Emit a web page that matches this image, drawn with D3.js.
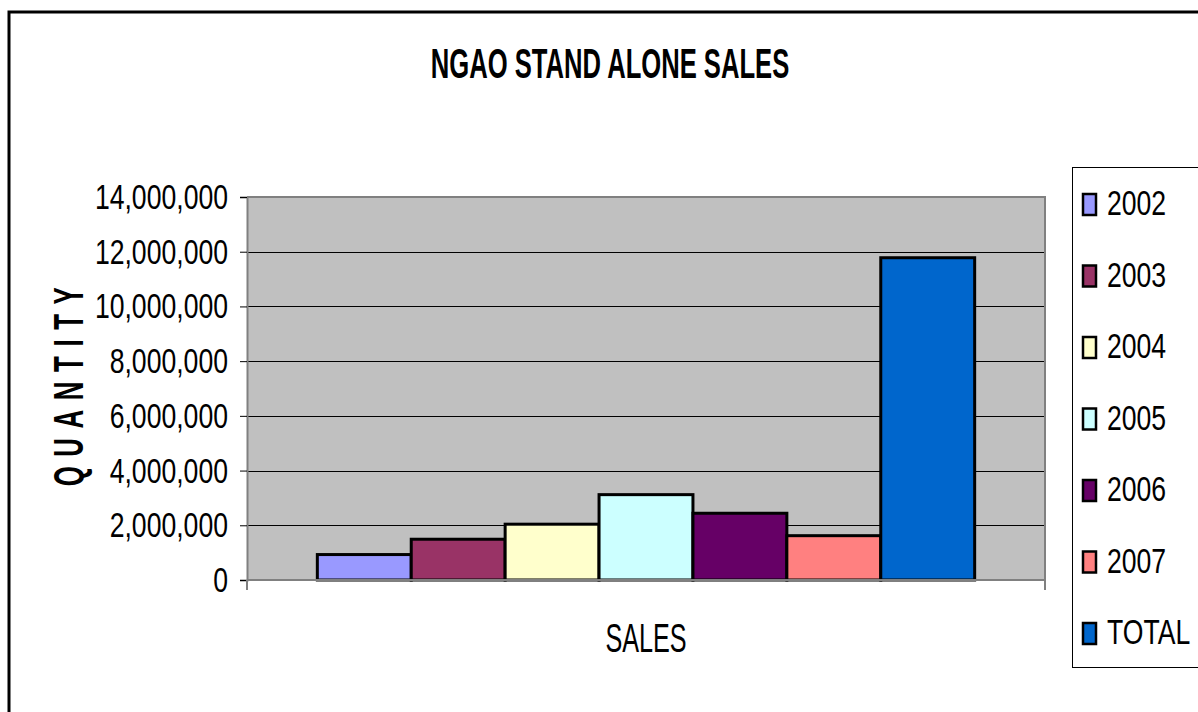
<!DOCTYPE html>
<html>
<head>
<meta charset="utf-8">
<script src="https://cdn.jsdelivr.net/npm/d3@7"></script>
<style>
  html, body { margin: 0; padding: 0; background: #fff; }
  svg { display: block; font-family: "Liberation Sans", Arial, sans-serif; }
</style>
</head>
<body>
<svg id="chart" width="1198" height="712"></svg>
<script>
// Stand-alone sales by year, plus the overall total
const seriesNames = ["2002", "2003", "2004", "2005", "2006", "2007", "TOTAL"];
const seriesValues = [930000, 1490000, 2040000, 3120000, 2440000, 1620000, 11780000];
const seriesColors = ["#9999FF", "#993366", "#FFFFCC", "#CCFFFF", "#660066", "#FF8080", "#0066CC"];
const categories = ["SALES"];
const yTicks = [0, 2000000, 4000000, 6000000, 8000000, 10000000, 12000000, 14000000];

const svg = d3.select("#chart");

// Outer chart frame
svg.append("path")
  .attr("d", "M9,712 V12 H1200")
  .attr("fill", "none")
  .attr("stroke", "#000")
  .attr("stroke-width", 3);

const plot = { left: 247, right: 1045, top: 197, bottom: 580 };

const y = d3.scaleLinear().domain([0, 14000000]).range([plot.bottom, plot.top]);
const x0 = d3.scaleBand().domain(categories)
  .range([plot.left, plot.right]).paddingInner(0).paddingOuter(0.107);
const x1 = d3.scaleBand().domain(seriesNames).range([0, x0.bandwidth()]);

// Plot area
svg.append("rect")
  .attr("x", plot.left).attr("y", plot.top)
  .attr("width", plot.right - plot.left).attr("height", plot.bottom - plot.top)
  .attr("fill", "#C0C0C0");

// Gridlines
svg.append("g")
  .selectAll("line")
  .data(yTicks.filter(t => t > 0 && t < 14000000))
  .join("line")
  .attr("x1", plot.left).attr("x2", plot.right)
  .attr("y1", d => Math.round(y(d)) + 0.5).attr("y2", d => Math.round(y(d)) + 0.5)
  .attr("stroke", "#000").attr("stroke-width", 1);

// Plot border (top and right)
svg.append("path")
  .attr("d", `M${plot.left},${plot.top} H${plot.right} V${plot.bottom}`)
  .attr("fill", "none").attr("stroke", "#808080").attr("stroke-width", 2);

// Bars
svg.append("g")
  .selectAll("g")
  .data(categories)
  .join("g")
  .attr("transform", d => `translate(${x0(d)},0)`)
  .selectAll("rect")
  .data(() => seriesNames.map((s, i) => ({ name: s, value: seriesValues[i], color: seriesColors[i] })))
  .join("rect")
  .attr("x", d => x1(d.name))
  .attr("y", d => y(d.value))
  .attr("width", x1.bandwidth())
  .attr("height", d => y(0) - y(d.value))
  .attr("fill", d => d.color)
  .attr("stroke", "#000")
  .attr("stroke-width", 3);

// Y axis
const yAxis = svg.append("g")
  .attr("transform", `translate(${plot.left},0)`)
  .call(d3.axisLeft(y).tickValues(yTicks).tickFormat(d3.format(",")).tickSize(7).tickPadding(0));
yAxis.select(".domain").attr("stroke", "#808080").attr("stroke-width", 2);
yAxis.selectAll(".tick line").attr("stroke", "#000");
yAxis.selectAll(".tick text")
  .attr("font-size", 35)
  .attr("fill", "#000")
  .attr("x", -19 / 0.76)
  .attr("dy", "0.33em")
  .attr("transform", "scale(0.76,1)");

// X axis
const xAxis = svg.append("g")
  .attr("transform", `translate(0,${plot.bottom})`);
xAxis.append("line")
  .attr("x1", plot.left).attr("x2", plot.right)
  .attr("y1", 0).attr("y2", 0)
  .attr("stroke", "#808080").attr("stroke-width", 2);
xAxis.selectAll("line.tick")
  .data([plot.left, plot.right])
  .join("line")
  .attr("class", "tick")
  .attr("x1", d => d).attr("x2", d => d)
  .attr("y1", 0).attr("y2", 10)
  .attr("stroke", "#808080").attr("stroke-width", 2);

// Category label
svg.append("text")
  .attr("transform", `translate(${x0(categories[0]) + x0.bandwidth() / 2},652) scale(0.63,1)`)
  .attr("text-anchor", "middle")
  .attr("font-size", 40)
  .text(categories[0]);

// Title
svg.append("text")
  .attr("transform", "translate(610,78) scale(0.61,1)")
  .attr("text-anchor", "middle")
  .attr("font-size", 42)
  .attr("font-weight", "bold")
  .text("NGAO STAND ALONE SALES");

// Y axis title
svg.append("text")
  .attr("transform", "translate(83,382) rotate(-90) scale(0.6,1)")
  .attr("text-anchor", "middle")
  .attr("font-size", 43)
  .attr("font-weight", "bold")
  .attr("letter-spacing", 16)
  .text("QUANTITY");

// Legend
const legend = svg.append("g");
legend.append("rect")
  .attr("x", 1072.5).attr("y", 167.5)
  .attr("width", 140).attr("height", 500)
  .attr("fill", "#fff").attr("stroke", "#000").attr("stroke-width", 1);

const items = legend.selectAll("g.item")
  .data(seriesNames.map((s, i) => ({ name: s, color: seriesColors[i] })))
  .join("g")
  .attr("class", "item")
  .attr("transform", (d, i) => `translate(0,${205 + i * 71.5})`);
items.append("rect")
  .attr("x", 1083).attr("y", -11)
  .attr("width", 13).attr("height", 21)
  .attr("fill", d => d.color)
  .attr("stroke", "#000").attr("stroke-width", 2.5);
items.append("text")
  .attr("transform", "translate(1107,10) scale(0.76,1)")
  .attr("font-size", 35)
  .text(d => d.name);
</script>
</body>
</html>
